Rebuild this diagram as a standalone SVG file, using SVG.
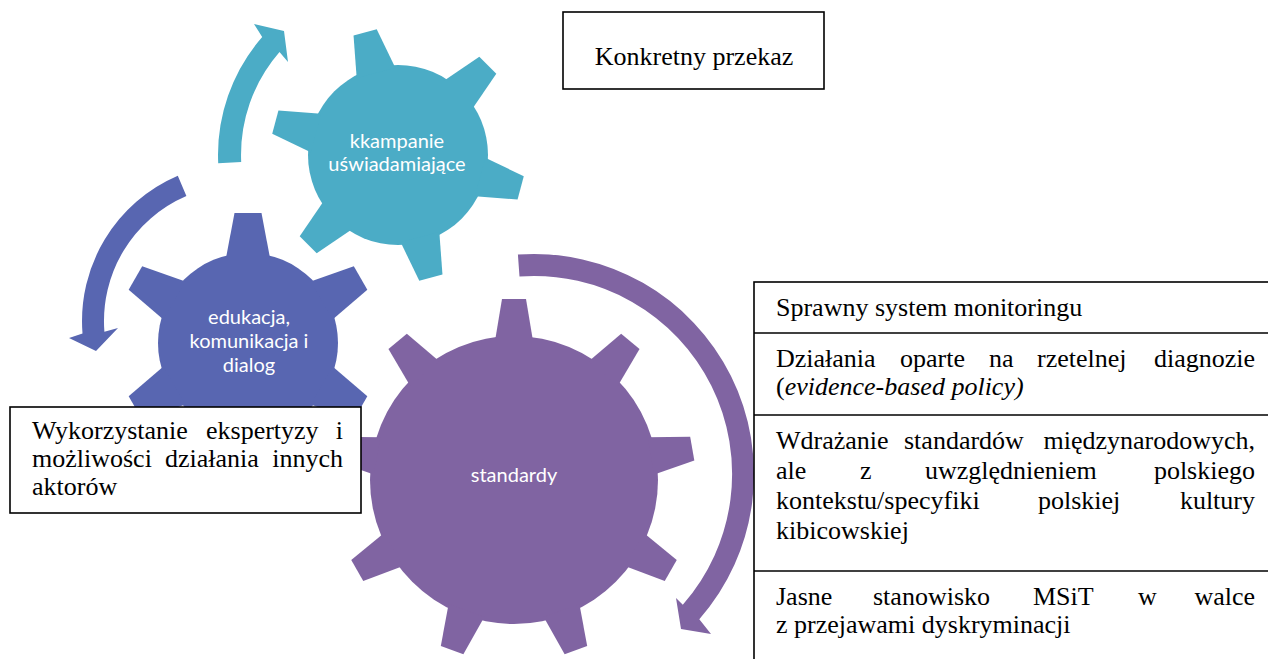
<svg xmlns="http://www.w3.org/2000/svg" width="1268" height="659" viewBox="0 0 1268 659">
<style>
.teal{fill:#4BACC6}
.blue{fill:#5866B1}
.purple{fill:#8064A2}
.gt{font-family:Lato,"Open Sans",sans-serif;font-size:20px;fill:#FFFFFF;text-anchor:middle}
.box{fill:#FFFFFF;stroke:#000000;stroke-width:1.6}
.ln{stroke:#000000;stroke-width:1.6;fill:none}
.tt{font-family:"Liberation Serif","DejaVu Serif",serif;font-size:26px;fill:#000000}
.end{text-anchor:end}
</style>
<defs>
<polygon id="toothT" points="-20,-85 -12,-127 12,-127 20,-85"/>
<polygon id="toothB" points="-22,-85 -13.5,-130 13.5,-130 22,-85"/>
<polygon id="toothP" points="-19,-139 -12,-181 12,-181 19,-139"/>
</defs>

<g id="connectors">
<path class="teal" d="M 218.2 163.2 A 180 180 0 0 1 262.2 36.9 L 254 24 L 284 31 L 288 62 L 279.5 52 A 157 157 0 0 0 241.2 162.1 Z"/>
<path class="blue" d="M 177.8 175.8 A 158 158 0 0 0 82.5 333.4 L 69 338 L 96 351 L 118 328 L 104.4 331.7 A 136 136 0 0 1 186.4 196 Z"/>
<path class="purple" d="M 517.9 254.6 A 220 220 0 0 1 699.3 619.2 L 711 634 L 681 629 L 676 598 L 682.8 604.7 A 198 198 0 0 0 519.5 276.5 Z"/>
</g>

<g id="gear-standardy" class="purple">
<circle cx="514" cy="480" r="144"/>
<g transform="translate(514 480)">
<use href="#toothP" transform="rotate(0)"/>
<use href="#toothP" transform="rotate(40)"/>
<use href="#toothP" transform="rotate(80)"/>
<use href="#toothP" transform="rotate(120)"/>
<use href="#toothP" transform="rotate(160)"/>
<use href="#toothP" transform="rotate(200)"/>
<use href="#toothP" transform="rotate(240)"/>
<use href="#toothP" transform="rotate(280)"/>
<use href="#toothP" transform="rotate(320)"/>
</g>
<text class="gt" x="514" y="482">standardy</text>
</g>

<g id="gear-edukacja" class="blue">
<circle cx="248" cy="343" r="90"/>
<g transform="translate(248 343)">
<use href="#toothB" transform="rotate(0)"/>
<use href="#toothB" transform="rotate(60)"/>
<use href="#toothB" transform="rotate(120)"/>
<use href="#toothB" transform="rotate(180)"/>
<use href="#toothB" transform="rotate(240)"/>
<use href="#toothB" transform="rotate(300)"/>
</g>
<text class="gt" x="249" y="324">edukacja,</text>
<text class="gt" x="249" y="348">komunikacja i</text>
<text class="gt" x="249" y="372">dialog</text>
</g>

<g id="gear-kampanie" class="teal">
<circle cx="398" cy="155" r="90"/>
<g transform="translate(398 155)">
<use href="#toothT" transform="rotate(-15)"/>
<use href="#toothT" transform="rotate(45)"/>
<use href="#toothT" transform="rotate(105)"/>
<use href="#toothT" transform="rotate(165)"/>
<use href="#toothT" transform="rotate(225)"/>
<use href="#toothT" transform="rotate(285)"/>
</g>
<text class="gt" x="397" y="148">kkampanie</text>
<text class="gt" x="397" y="171">uświadamiające</text>
</g>

<g id="box-konkretny">
<rect class="box" x="563" y="12" width="261" height="77"/>
<text class="tt" x="694" y="65" text-anchor="middle">Konkretny przekaz</text>
</g>

<g id="box-wykorzystanie">
<rect class="box" x="10" y="407" width="351" height="106"/>
<text class="tt" y="439"><tspan x="32">Wykorzystanie</tspan><tspan x="206">ekspertyzy</tspan></text>
<text class="tt end" x="343" y="439">i</text>
<text class="tt" y="467"><tspan x="32">możliwości</tspan><tspan x="165">działania</tspan></text>
<text class="tt end" x="343" y="467">innych</text>
<text class="tt" x="32" y="495">aktorów</text>
</g>

<g id="table-right">
<rect class="box" x="754" y="282" width="530" height="400"/>
<line class="ln" x1="754" y1="333" x2="1270" y2="333"/>
<line class="ln" x1="754" y1="415" x2="1270" y2="415"/>
<line class="ln" x1="754" y1="571" x2="1270" y2="571"/>
<text class="tt" x="776" y="316">Sprawny system monitoringu</text>
<text class="tt" y="367"><tspan x="776">Działania</tspan><tspan x="900">oparte</tspan><tspan x="989">na</tspan><tspan x="1037">rzetelnej</tspan></text>
<text class="tt end" x="1255" y="367">diagnozie</text>
<text class="tt" x="776" y="395">(<tspan font-style="italic">evidence-based policy)</tspan></text>
<text class="tt" y="449"><tspan x="776">Wdrażanie</tspan><tspan x="904">standardów</tspan></text>
<text class="tt end" x="1255" y="449">międzynarodowych,</text>
<text class="tt" y="479"><tspan x="776">ale</tspan><tspan x="860">z</tspan><tspan x="925">uwzględnieniem</tspan></text>
<text class="tt end" x="1255" y="479">polskiego</text>
<text class="tt" y="509"><tspan x="776">kontekstu/specyfiki</tspan><tspan x="1038">polskiej</tspan></text>
<text class="tt end" x="1255" y="509">kultury</text>
<text class="tt" x="776" y="539">kibicowskiej</text>
<text class="tt" y="605"><tspan x="776">Jasne</tspan><tspan x="873">stanowisko</tspan><tspan x="1033">MSiT</tspan><tspan x="1138">w</tspan></text>
<text class="tt end" x="1255" y="605">walce</text>
<text class="tt" x="776" y="633">z przejawami dyskryminacji</text>
</g>
</svg>
